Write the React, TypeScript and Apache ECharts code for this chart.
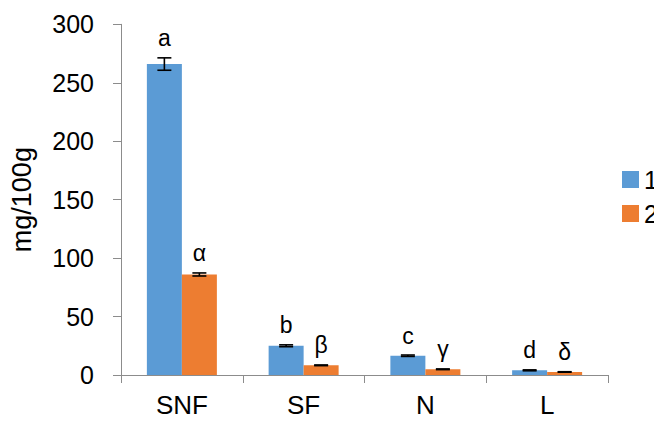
import React, { useEffect, useRef } from "react";
import * as echarts from "echarts";

const categories = ["SNF", "SF", "N", "L"];
const series1Values = [266, 25, 16.5, 4.0];
const series1Errors = [5.3, 0.8, 0.6, 0.4];
const series1Letters = ["a", "b", "c", "d"];
const series2Values = [86, 8.3, 4.9, 2.6];
const series2Errors = [1.3, 0.3, 0.3, 0.2];
const series2Letters = ["α", "β", "γ", "δ"];
const yTicks = { min: 0, max: 300, interval: 50 };

const FONT = "Liberation Sans, Arial, sans-serif";
const BLUE = "#5B9BD5";
const ORANGE = "#ED7D31";
const AXIS = "#8C8C8C";

function errorSeries(values: number[], errors: number[], letters: string[], offset: number) {
  return {
    type: "custom",
    z: 5,
    silent: true,
    data: values.map((v, i) => [i, v, errors[i]]),
    renderItem: (params: any, api: any) => {
      const idx = api.value(0);
      const v = api.value(1);
      const e = api.value(2);
      const x = api.coord([idx, 0])[0] + offset;
      const top = api.coord([idx, v + e])[1];
      const bot = api.coord([idx, v - e])[1];
      const half = 7;
      const ls = { stroke: "#000", lineWidth: 1.6 };
      return {
        type: "group",
        children: [
          { type: "line", shape: { x1: x, y1: top, x2: x, y2: bot }, style: ls },
          { type: "line", shape: { x1: x - half, y1: top, x2: x + half, y2: top }, style: ls },
          { type: "line", shape: { x1: x - half, y1: bot, x2: x + half, y2: bot }, style: ls },
          {
            type: "text",
            x: x,
            y: top - 8,
            style: {
              text: letters[params.dataIndex],
              fill: "#000",
              font: `23px ${FONT}`,
              textAlign: "center",
              textVerticalAlign: "bottom",
            },
          },
        ],
      };
    },
  };
}

export default function App() {
  const ref = useRef<HTMLDivElement>(null);
  useEffect(() => {
    if (!ref.current) return;
    const chart = echarts.init(ref.current, null, { renderer: "svg" });
    chart.setOption({
      animation: false,
      backgroundColor: "#fff",
      textStyle: { fontFamily: FONT },
      grid: { left: 119, right: 46, top: 24.3, bottom: 46 },
      legend: {
        orient: "vertical",
        left: 617,
        top: 162,
        itemWidth: 17,
        itemHeight: 17,
        itemGap: 9,
        icon: "rect",
        data: ["1", "2"],
        textStyle: { fontSize: 25, color: "#000", fontFamily: FONT, padding: [0, 0, 0, 0] },
      },
      xAxis: {
        type: "category",
        data: categories,
        axisLine: { lineStyle: { color: AXIS, width: 1 } },
        axisTick: { show: true, length: 8, lineStyle: { color: AXIS } },
        axisLabel: { color: "#000", fontSize: 26, margin: 17, fontFamily: FONT },
      },
      yAxis: {
        type: "value",
        min: yTicks.min,
        max: yTicks.max,
        interval: yTicks.interval,
        name: "mg/100g",
        nameLocation: "middle",
        nameGap: 86,
        nameTextStyle: { fontSize: 27, color: "#000", fontFamily: FONT },
        axisLine: { show: true, lineStyle: { color: AXIS, width: 1 } },
        axisTick: { show: true, length: 8, lineStyle: { color: AXIS } },
        splitLine: { show: false },
        axisLabel: { color: "#000", fontSize: 25, margin: 27, fontFamily: FONT },
      },
      series: [
        {
          name: "1",
          type: "bar",
          data: series1Values,
          barWidth: 35,
          barGap: "0%",
          itemStyle: { color: BLUE },
        },
        {
          name: "2",
          type: "bar",
          data: series2Values,
          barWidth: 35,
          barGap: "0%",
          itemStyle: { color: ORANGE },
        },
        errorSeries(series1Values, series1Errors, series1Letters, -17.5),
        errorSeries(series2Values, series2Errors, series2Letters, 17.5),
      ],
    });
    return () => chart.dispose();
  }, []);
  return <div ref={ref} style={{ width: 654, height: 421, position: "absolute", left: 0, top: 0 }} />;
}
